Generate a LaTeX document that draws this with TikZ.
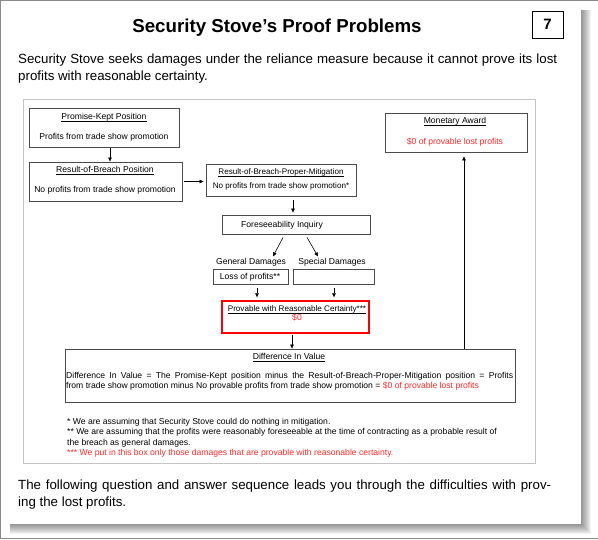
\documentclass[tikz,border=0pt]{standalone}
\usepackage{fontspec}
\setmainfont{Liberation Sans}
\usetikzlibrary{arrows.meta,calc}
\definecolor{boxgray}{HTML}{4A4A4A}
\definecolor{framegray}{HTML}{C4C4C4}
\definecolor{outergray}{HTML}{8A8A8A}
\definecolor{txtred}{HTML}{FF2A2A}
\newcommand{\ulbox}[1]{\underline{\smash{#1}}}
\begin{document}
\begin{tikzpicture}[x=1pt,y=-1pt,
  box/.style={draw=boxgray,line width=0.9pt,inner sep=0pt,fill=white},
  redbox/.style={draw=red,line width=1.4pt,inner sep=0pt,fill=white},
  small/.style={font=\fontsize{8.6}{10.4}\selectfont,inner sep=0pt,anchor=base},
  smaller/.style={font=\fontsize{8.1}{10}\selectfont,inner sep=0pt,anchor=base},
  body/.style={font=\fontsize{13.3}{17}\selectfont,inner sep=0pt,anchor=north west,align=justify},
  arr/.style={-{Triangle[length=4pt,width=3.6pt]},line width=0.6pt,black},
]
\useasboundingbox (0,0) rectangle (598,540);
% outer frame
\draw[outergray,line width=0.8pt] (0.5,0) -- (0.5,538.5) -- (598,538.5);
\draw[outergray,line width=0.8pt] (0,0.5) -- (598,0.5);
% page shadow
\foreach \i in {0,...,9}
  \fill[black,opacity=0.05] (10,10) rectangle (591-\i,534-\i);
\fill[white] (1,1) rectangle (581,524);

% title and number
\node[font=\fontsize{18.7}{22}\selectfont\bfseries,inner sep=0pt] (title) at (277,28) {Security Stove’s Proof Problems};
\node[draw=black,line width=0.9pt,minimum width=31pt,minimum height=27pt,inner sep=0pt,font=\fontsize{15}{17}\selectfont\bfseries] (num) at (547.5,24.5) {7};

\node[body,text width=539pt] (intro) at (18,54) {Security Stove seeks damages under the reliance measure because it cannot prove its lost\linebreak profits with reasonable certainty.};

% diagram frame
\node[draw=framegray,line width=0.9pt,minimum width=512pt,minimum height=364pt,inner sep=0pt] (frame) at (279,281) {};

% boxes
\node[box,minimum width=150pt,minimum height=39pt] (pk) at (104,127.5) {};
\node[box,minimum width=153pt,minimum height=39pt] (rb) at (105.5,181.5) {};
\node[box,minimum width=150pt,minimum height=32pt] (rbpm) at (281,180) {};
\node[box,minimum width=148pt,minimum height=19pt] (fi) at (296,224.5) {};
\node[box,minimum width=75pt,minimum height=15pt] (loss) at (250.5,276.5) {};
\node[box,minimum width=81pt,minimum height=15pt] (empty) at (333.5,276.5) {};
\node[redbox,minimum width=147pt,minimum height=32pt] (red) at (295.5,317) {};
\node[box,minimum width=450pt,minimum height=53pt] (diff) at (290,375.5) {};
\node[box,minimum width=142pt,minimum height=39pt] (mon) at (456,132.5) {};

% texts
\node[small] (pkT) at (104,120) {\ulbox{Promise-Kept Position}};
\node[small] (pkB) at (104,140) {Profits from trade show promotion};
\node[small] (rbT) at (105,173) {\ulbox{Result-of-Breach Position}};
\node[small] (rbB) at (105,193) {No profits from trade show promotion};
\node[smaller] (rbpmT) at (281,175) {\ulbox{Result-of-Breach-Proper-Mitigation}};
\node[smaller] (rbpmB) at (281,188.5) {No profits from trade show promotion*};
\node[small] (fiT) at (282,227.5) {Foreseeability Inquiry};
\node[small] (gen) at (251,265) {General Damages};
\node[small] (spec) at (332,265) {Special Damages};
\node[small] (lossT) at (250,280) {Loss of profits**};
\node[smaller] (redT) at (297,312) {\ulbox{Provable with Reasonable Certainty***}};
\node[small,text=txtred] (redB) at (297,320.5) {\$0};
\node[small] (diffT) at (289,360) {\ulbox{Difference In Value}};
\node[small,anchor=north west,text width=447pt,align=justify] (diffB) at (66,372) {Difference In Value = The Promise-Kept position minus the Result-of-Breach-Proper-Mitigation position = Profits\linebreak from trade show promotion minus No provable profits from trade show promotion = {\color{txtred}\$0 of provable lost profits}};
\node[small] (monT) at (455,124) {\ulbox{Monetary Award}};
\node[small,text=txtred] (monB) at (455,145) {\$0 of provable lost profits};

\node[small,anchor=north west,align=left] (notes) at (67,418) {* We are assuming that Security Stove could do nothing in mitigation.\\
** We are assuming that the profits were reasonably foreseeable at the time of contracting as a probable result of\\
the breach as general damages.\\
{\color{txtred}*** We put in this box only those damages that are provable with reasonable certainty.}};

\node[body,text width=533pt] (outro) at (18,480) {The following question and answer sequence leads you through the difficulties with prov-\linebreak ing the lost profits.};

% connectors
\path (pk.south) ++(6,0) coordinate (pkA);
\draw[arr,shorten <=1pt] (pkA) -- (pkA |- rb.north);
\draw[arr,shorten <=2pt,shorten >=2pt] (rb.east) -- (rb.east -| rbpm.west);
\path (rbpm.south) ++(12,0) coordinate (rA);
\draw[arr,shorten <=4pt,shorten >=2pt] (rA) -- (rA |- fi.north);
\path (fi.south) ++(-13,3) coordinate (fA);
\path (fi.south) ++(-23,22) coordinate (fB);
\draw[arr] (fA) -- (fB);
\path (fi.south) ++(11,3) coordinate (fC);
\path (fi.south) ++(22,22) coordinate (fD);
\draw[arr] (fC) -- (fD);
\path (loss.south) ++(6.5,4) coordinate (lA);
\draw[arr,shorten >=3pt] (lA) -- (lA |- red.north);
\path (empty.south) ++(0.5,4) coordinate (eA);
\draw[arr,shorten >=3pt] (eA) -- (eA |- red.north);
\path (red.south) ++(-3.5,0) coordinate (dA);
\draw[arr,shorten <=1pt] (dA) -- (dA |- diff.north);
\path (mon.south) ++(8,0) coordinate (mA);
\draw[arr,shorten >=4pt] (mA |- diff.north) -- (mA);
\end{tikzpicture}
\end{document}
